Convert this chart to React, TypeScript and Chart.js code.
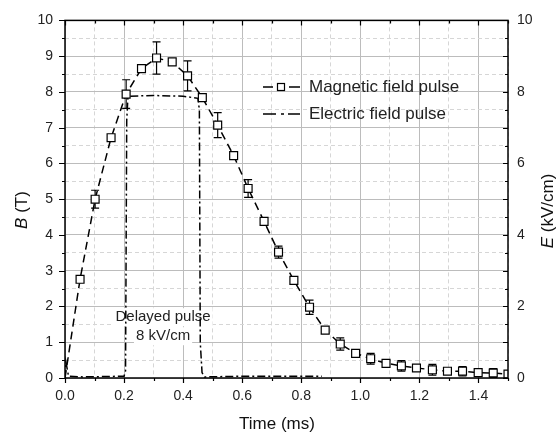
import React, { useEffect, useRef } from 'react';
import { Chart, registerables } from 'chart.js';

Chart.register(...registerables);

// ---- data ----
const magTime = [0, 0.051, 0.102, 0.156, 0.207, 0.259, 0.31, 0.363, 0.415, 0.465, 0.517, 0.571, 0.62, 0.674, 0.723, 0.775, 0.828, 0.881, 0.932, 0.984, 1.035, 1.087, 1.139, 1.19, 1.244, 1.295, 1.346, 1.399, 1.45, 1.5];
const magField = [0, 2.76, 5.0, 6.72, 7.94, 8.65, 8.95, 8.84, 8.45, 7.84, 7.07, 6.22, 5.3, 4.38, 3.52, 2.73, 1.98, 1.34, 0.95, 0.69, 0.54, 0.41, 0.34, 0.28, 0.23, 0.19, 0.19, 0.15, 0.14, 0.11];
const magErr = [0, 0, 0.25, 0, 0.4, 0, 0.45, 0, 0.42, 0, 0.35, 0, 0.25, 0, 0.17, 0, 0.2, 0, 0.17, 0, 0.15, 0, 0.15, 0, 0.15, 0, 0.13, 0, 0.12, 0];

const elecTime = [0, 0.003, 0.012, 0.06, 0.2, 0.205, 0.209, 0.213, 0.22, 0.3, 0.4, 0.45, 0.455, 0.458, 0.464, 0.472, 0.6, 0.87];
const elecField = [0, 0.45, 0.05, 0.03, 0.05, 0.2, 7.2, 7.85, 7.88, 7.9, 7.88, 7.82, 7.5, 1.0, 0.15, 0.03, 0.05, 0.05];

const seriesLabels = ['Magnetic field pulse', 'Electric field pulse'];
const annotationLines = ['Delayed pulse', '8 kV/cm'];
const annotationAnchor = [0.332, 1.7]; // (time, B) of the first annotation line
const xTitle = 'Time (ms)';
const yTitle = [{ t: 'B', italic: true }, { t: ' (T)', italic: false }];
const y2Title = [{ t: 'E', italic: true }, { t: ' (kV/cm)', italic: false }];

const FONT = '"Liberation Sans", Arial, Helvetica, sans-serif';

const near = (v: number, step: number) => {
  if (v === undefined || v === null) return false;
  const r = v / step;
  return Math.abs(r - Math.round(r)) < 1e-6;
};
const isMajorX = (v: number) => near(v, 0.2);
const isMajorY = (v: number) => near(v, 1);

function drawMixed(ctx: CanvasRenderingContext2D, parts: { t: string; italic: boolean }[], size: number, x: number, y: number, rot: number) {
  ctx.save();
  ctx.translate(x, y);
  ctx.rotate(rot);
  ctx.textBaseline = 'alphabetic';
  ctx.textAlign = 'left';
  ctx.fillStyle = '#111';
  let total = 0;
  const widths = parts.map((p) => {
    ctx.font = `${p.italic ? 'italic ' : ''}${size}px ${FONT}`;
    const w = ctx.measureText(p.t).width;
    total += w;
    return w;
  });
  let cx = -total / 2;
  parts.forEach((p, i) => {
    ctx.font = `${p.italic ? 'italic ' : ''}${size}px ${FONT}`;
    ctx.fillText(p.t, cx, 0);
    cx += widths[i];
  });
  ctx.restore();
}

const overlay = {
  id: 'overlay',
  beforeDatasetsDraw(chart: any) {
    const { ctx, scales } = chart;
    const x = scales.x;
    const y = scales.y;
    // annotation with white boxes
    ctx.save();
    ctx.font = `15px ${FONT}`;
    ctx.textAlign = 'center';
    ctx.textBaseline = 'middle';
    const ax = x.getPixelForValue(annotationAnchor[0]);
    const ay = y.getPixelForValue(annotationAnchor[1]);
    annotationLines.forEach((line, i) => {
      const w = ctx.measureText(line).width;
      const ly = ay + i * 19;
      ctx.fillStyle = '#fff';
      ctx.fillRect(ax - w / 2 - 2, ly - 9, w + 4, 18);
      ctx.fillStyle = '#222';
      ctx.fillText(line, ax, ly);
    });
    // error bars
    ctx.strokeStyle = '#000';
    ctx.lineWidth = 1.2;
    magTime.forEach((t, i) => {
      const e = magErr[i];
      if (!e) return;
      const px = x.getPixelForValue(t);
      const top = y.getPixelForValue(magField[i] + e);
      const bot = y.getPixelForValue(magField[i] - e);
      ctx.beginPath();
      ctx.moveTo(px, top);
      ctx.lineTo(px, bot);
      ctx.moveTo(px - 4, top);
      ctx.lineTo(px + 4, top);
      ctx.moveTo(px - 4, bot);
      ctx.lineTo(px + 4, bot);
      ctx.stroke();
    });
    ctx.restore();
  },
  afterDatasetsDraw(chart: any) {
    const { ctx } = chart;
    ctx.save();
    // legend
    const rows = [87, 114];
    ctx.strokeStyle = '#000';
    ctx.lineWidth = 1.6;
    // row 1
    ctx.beginPath();
    ctx.moveTo(263, rows[0]);
    ctx.lineTo(273, rows[0]);
    ctx.moveTo(289, rows[0]);
    ctx.lineTo(300, rows[0]);
    ctx.stroke();
    ctx.fillStyle = '#fff';
    ctx.lineWidth = 1.2;
    ctx.fillRect(277.5, rows[0] - 3.5, 7, 7);
    ctx.strokeRect(277.5, rows[0] - 3.5, 7, 7);
    // row 2
    ctx.lineWidth = 1.6;
    ctx.beginPath();
    ctx.moveTo(263, rows[1]);
    ctx.lineTo(276, rows[1]);
    ctx.moveTo(281, rows[1]);
    ctx.lineTo(284, rows[1]);
    ctx.moveTo(288, rows[1]);
    ctx.lineTo(300, rows[1]);
    ctx.stroke();
    ctx.fillStyle = '#222';
    ctx.font = `17px ${FONT}`;
    ctx.textAlign = 'left';
    ctx.textBaseline = 'middle';
    seriesLabels.forEach((l, i) => ctx.fillText(l, 309, rows[i]));
    ctx.restore();
  },
  afterDraw(chart: any) {
    const { ctx, chartArea: a, scales } = chart;
    const x = scales.x;
    const y = scales.y;
    ctx.save();
    ctx.strokeStyle = '#000';
    ctx.lineWidth = 1.2;
    ctx.beginPath();
    // x ticks: bottom outward, top inward
    x.ticks.forEach((tk: any) => {
      const px = Math.round(x.getPixelForValue(tk.value)) + 0.5;
      const len = isMajorX(tk.value) ? 5 : 3;
      ctx.moveTo(px, a.bottom);
      ctx.lineTo(px, a.bottom + len);
      ctx.moveTo(px, a.top);
      ctx.lineTo(px, a.top + len);
    });
    y.ticks.forEach((tk: any) => {
      const py = Math.round(y.getPixelForValue(tk.value)) + 0.5;
      const len = isMajorY(tk.value) ? 6 : 3;
      ctx.moveTo(a.left, py);
      ctx.lineTo(a.left - len, py);
      ctx.moveTo(a.right, py);
      ctx.lineTo(a.right - (isMajorY(tk.value) ? 5 : 3), py);
    });
    ctx.stroke();
    // frame
    ctx.lineWidth = 1.5;
    ctx.strokeRect(a.left, a.top, a.right - a.left, a.bottom - a.top);
    ctx.restore();

    // axis titles
    ctx.save();
    ctx.font = `17px ${FONT}`;
    ctx.fillStyle = '#111';
    ctx.textAlign = 'center';
    ctx.textBaseline = 'alphabetic';
    ctx.fillText(xTitle, 277, 429);
    ctx.restore();
    drawMixed(ctx, yTitle, 17, 27, 210, -Math.PI / 2);
    drawMixed(ctx, y2Title, 17, 553, 211, -Math.PI / 2);
  },
};

export default function App() {
  const ref = useRef<HTMLCanvasElement | null>(null);
  useEffect(() => {
    if (!ref.current) return;
    const tickFont = { family: FONT, size: 14 };
    const chart = new Chart(ref.current, {
      type: 'line',
      data: {
        datasets: [
          {
            label: seriesLabels[0],
            data: magTime.map((t, i) => ({ x: t, y: magField[i] })),
            yAxisID: 'y',
            borderColor: '#000',
            borderWidth: 1.5,
            borderDash: [8, 5],
            pointStyle: 'rect',
            pointRadius: (c: any) => (c.dataIndex === 0 ? 0 : 5.6),
            pointBackgroundColor: '#fff',
            pointBorderColor: '#000',
            pointBorderWidth: 1.2,
            tension: 0,
            fill: false,
          },
          {
            label: seriesLabels[1],
            data: elecTime.map((t, i) => ({ x: t, y: elecField[i] })),
            yAxisID: 'y2',
            borderColor: '#000',
            borderWidth: 1.5,
            borderDash: [8, 3, 2, 3],
            pointRadius: 0,
            tension: 0,
            fill: false,
          },
        ],
      },
      options: {
        animation: false,
        responsive: false,
        maintainAspectRatio: false,
        layout: { padding: { top: 20, left: 0, right: 0, bottom: 0 } },
        plugins: { legend: { display: false }, tooltip: { enabled: false } },
        scales: {
          x: {
            type: 'linear',
            position: 'bottom',
            min: 0,
            max: 1.5,
            ticks: {
              stepSize: 0.1,
              autoSkip: false,
              maxRotation: 0,
              padding: 10,
              color: '#222',
              font: tickFont,
              callback: (v: any) => (isMajorX(Number(v)) ? Number(v).toFixed(1) : ''),
            },
            grid: {
              drawTicks: false,
              lineWidth: 1,
              color: (c: any) => (c.tick && isMajorX(c.tick.value) ? '#bcbcbc' : '#d6d6d6'),
            },
            border: {
              display: false,
              dash: (c: any) => (c.tick && isMajorX(c.tick.value) ? [] : [4, 3]),
            },
            afterFit: (s: any) => {
              s.height = 55;
            },
          },
          y: {
            type: 'linear',
            position: 'left',
            min: 0,
            max: 10,
            ticks: {
              stepSize: 0.5,
              autoSkip: false,
              padding: 12,
              color: '#222',
              font: tickFont,
              callback: (v: any) => (isMajorY(Number(v)) ? String(Math.round(Number(v))) : ''),
            },
            grid: {
              drawTicks: false,
              lineWidth: 1,
              color: (c: any) => (c.tick && isMajorY(c.tick.value) ? '#bcbcbc' : '#d6d6d6'),
            },
            border: {
              display: false,
              dash: (c: any) => (c.tick && isMajorY(c.tick.value) ? [] : [4, 3]),
            },
            afterFit: (s: any) => {
              s.width = 65;
            },
          },
          y2: {
            type: 'linear',
            position: 'right',
            min: 0,
            max: 10,
            ticks: {
              stepSize: 0.5,
              autoSkip: false,
              padding: 9,
              color: '#222',
              font: tickFont,
              callback: (v: any) => (near(Number(v), 2) ? String(Math.round(Number(v))) : ''),
            },
            grid: { drawOnChartArea: false, drawTicks: false },
            border: { display: false },
            afterFit: (s: any) => {
              s.width = 48;
            },
          },
        },
      },
      plugins: [overlay],
    } as any);
    return () => chart.destroy();
  }, []);
  return (
    <div style={{ position: 'absolute', left: 0, top: 0, width: 556, height: 433, background: '#fff' }}>
      <canvas ref={ref} width={556} height={433} style={{ width: 556, height: 433, display: 'block' }} />
    </div>
  );
}
